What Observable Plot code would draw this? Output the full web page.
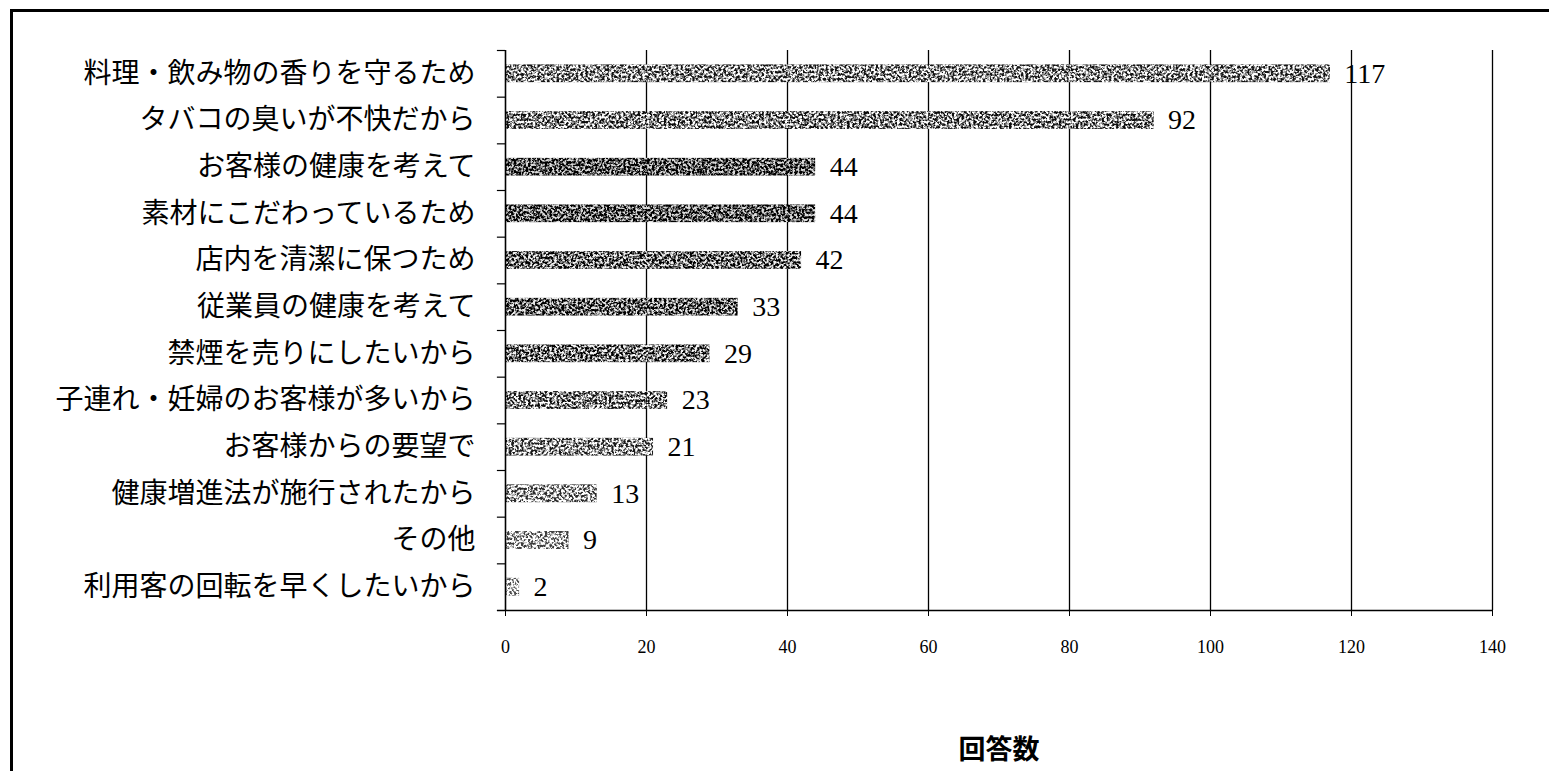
<!DOCTYPE html>
<html><head><meta charset="utf-8">
<script src="https://cdn.jsdelivr.net/npm/d3@7"></script>
<script src="https://cdn.jsdelivr.net/npm/@observablehq/plot@0.6"></script>
<style>
body{margin:0;background:#fff;width:1549px;height:771px;overflow:hidden;position:relative}
#chart{position:absolute;left:0;top:0}
#frame{position:absolute;left:10px;top:9px;width:1600px;height:820px;border-left:3px solid #000;border-top:3px solid #000;pointer-events:none}
</style></head><body>
<div id="chart"></div><div id="frame"></div>
<script>
// ---- data ----
const reasons = [
  "料理・飲み物の香りを守るため",
  "タバコの臭いが不快だから",
  "お客様の健康を考えて",
  "素材にこだわっているため",
  "店内を清潔に保つため",
  "従業員の健康を考えて",
  "禁煙を売りにしたいから",
  "子連れ・妊婦のお客様が多いから",
  "お客様からの要望で",
  "健康増進法が施行されたから",
  "その他",
  "利用客の回転を早くしたいから"
];
const counts = [117, 92, 44, 44, 42, 33, 29, 23, 21, 13, 9, 2];
const xTicks = [0, 20, 40, 60, 80, 100, 120, 140];
const axisTitle = "回答数";

// ---- style ----
const grays = ["#929292","#8a8a8a","#595959","#5c5c5c","#707070","#686868","#767676","#8a8a8a","#999999","#aaaaaa","#bababa","#cdcdcd"];
const W = 1549, H = 771, mt = 50, mb = 161, ml = 505, mr = 57;
const step = (H - mt - mb) / reasons.length;
const serif = "'Liberation Serif','DejaVu Serif','Noto Sans CJK JP',serif";

const data = reasons.map((r, i) => ({reason: r, count: counts[i]}));

const chart = Plot.plot({
  width: W, height: H,
  marginLeft: ml, marginRight: mr, marginTop: mt, marginBottom: mb,
  style: {background: "transparent", color: "#000", fontFamily: serif},
  x: {domain: [0, 140], ticks: xTicks},
  y: {domain: reasons, paddingInner: 0.62, paddingOuter: 0.31, round: false},
  color: {domain: reasons, range: grays},
  marks: [
    Plot.ruleX(xTicks.slice(1), {stroke: "#000", strokeWidth: 1.3}),
    Plot.barX(data, {x: "count", y: "reason", fill: "reason"}),
    Plot.ruleX([0], {stroke: "#000", strokeWidth: 1.6}),
    // band-boundary ticks on the category axis
    Plot.ruleY(reasons, {y: d => d, x1: -1.15, x2: 0, dy: -step / 2, stroke: "#000", strokeWidth: 1.2}),
    // bottom axis line
    Plot.ruleY(reasons.slice(-1), {y: d => d, x1: -1.15, x2: 140, dy: step / 2, stroke: "#000", strokeWidth: 1.3}),
    Plot.text(data, {x: "count", y: "reason", text: d => String(d.count), textAnchor: "start", dx: 14, fontSize: 28, fontFamily: serif, fill: "#000"}),
    Plot.axisY({tickSize: 0, tickPadding: 30, fontSize: 28, fontFamily: serif, label: null}),
    Plot.axisX({ticks: xTicks, tickSize: 6, tickPadding: 24, fontSize: 18, fontFamily: serif, label: null}),
    Plot.text([axisTitle], {frameAnchor: "bottom", lineAnchor: "middle", dy: 140, fontSize: 27, fontWeight: "bold", fontFamily: "'Noto Sans CJK JP',sans-serif", fill: "#000"})
  ]
});

// speckled (dithered) texture for the bars
const svg = d3.select(chart.tagName.toLowerCase() === "svg" ? chart : chart.querySelector("svg"));
const f = svg.insert("defs", ":first-child").append("filter")
  .attr("id", "speck").attr("x", 0).attr("y", 0).attr("width", 1).attr("height", 1)
  .attr("color-interpolation-filters", "sRGB");
f.append("feTurbulence").attr("type", "fractalNoise").attr("baseFrequency", 0.42).attr("numOctaves", 3).attr("seed", 5).attr("result", "noise");
f.append("feColorMatrix").attr("in", "noise").attr("type", "matrix")
  .attr("values", "3.5 0 0 0 -1.25  3.5 0 0 0 -1.25  3.5 0 0 0 -1.25  0 0 0 0 1").attr("result", "g");
f.append("feComposite").attr("in", "SourceGraphic").attr("in2", "g").attr("operator", "arithmetic")
  .attr("k1", 0).attr("k2", 1).attr("k3", 1.0).attr("k4", -0.5).attr("result", "mix");
f.append("feComposite").attr("in", "mix").attr("in2", "SourceAlpha").attr("operator", "in");
svg.selectAll("g[aria-label=bar] rect").attr("filter", "url(#speck)");

document.getElementById("chart").appendChild(chart);
</script>
</body></html>
